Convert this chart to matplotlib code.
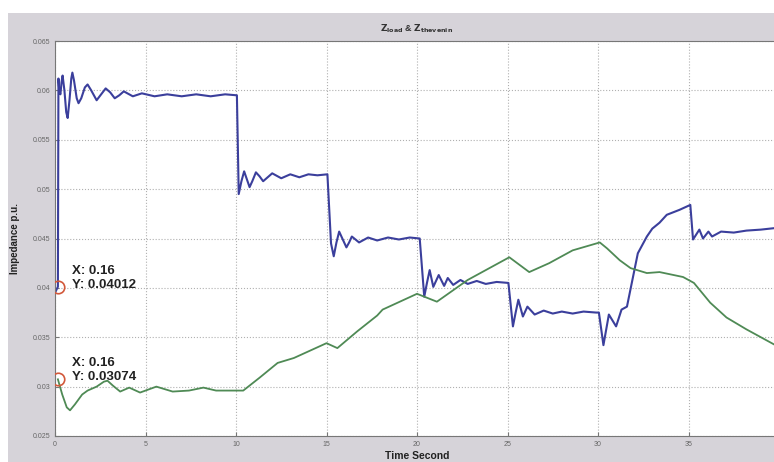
import matplotlib.pyplot as plt
from matplotlib.patches import Rectangle

# Z_load (blue)
t_load = [0.0, 0.16, 0.19, 0.24, 0.30, 0.36, 0.42, 0.52, 0.62, 0.70, 0.80, 0.90, 0.96, 1.05,
          1.2, 1.3, 1.45, 1.65, 1.8, 2.0, 2.3, 2.55, 2.8, 3.05, 3.3, 3.55, 3.8,
          4.3, 4.8, 5.5, 6.2, 7.0, 7.8, 8.6, 9.4, 10.05,
          10.15, 10.3, 10.45, 10.6, 10.75, 10.9, 11.1, 11.3, 11.5, 12.0, 12.5, 13.0, 13.5, 14.0, 14.5, 15.05,
          15.25, 15.4, 15.55, 15.7, 15.9, 16.1, 16.25, 16.4, 16.8, 17.3, 17.8, 18.4, 19.0, 19.6, 20.15,
          20.4, 20.55, 20.7, 20.9, 21.05, 21.2, 21.5, 21.7, 22.0, 22.4, 22.8, 23.3, 23.8, 24.4, 25.05,
          25.3, 25.45, 25.6, 25.85, 26.1, 26.5, 27.0, 27.5, 28.0, 28.6, 29.2, 29.9, 30.05,
          30.3, 30.6, 31.0, 31.3, 31.6, 31.9, 32.2, 32.7, 33.0, 33.4, 33.8, 34.5, 35.1,
          35.25, 35.6, 35.8, 36.1, 36.3, 36.8, 37.5, 38.2, 39.0, 40.0]
z_load = [0.0395, 0.04012, 0.0612, 0.0598, 0.0596, 0.0608, 0.0615, 0.0600, 0.0578, 0.0572, 0.0590, 0.0612, 0.0618, 0.0610,
          0.0592, 0.0587, 0.0592, 0.0603, 0.0606, 0.0600, 0.0590, 0.0596, 0.0602, 0.0598, 0.0592, 0.0595, 0.0599,
          0.0594, 0.0597, 0.0594, 0.0596, 0.0594, 0.0596, 0.0594, 0.0596, 0.0595,
          0.0495, 0.0508, 0.0518, 0.0510, 0.0502, 0.0508, 0.0517, 0.0513, 0.0508, 0.0516, 0.0511, 0.0515, 0.0512, 0.0515, 0.0514, 0.0515,
          0.0445, 0.0432, 0.0446, 0.0457, 0.0449, 0.0441, 0.0446, 0.0452, 0.0446, 0.0451, 0.0448, 0.0451, 0.0449, 0.0451, 0.0450,
          0.0391, 0.0405, 0.0418, 0.0401, 0.0407, 0.0413, 0.0402, 0.0410, 0.0403, 0.0408, 0.0404, 0.0407, 0.0404, 0.0406, 0.0405,
          0.0361, 0.0375, 0.0388, 0.0371, 0.0381, 0.0373, 0.0377, 0.0374, 0.0376, 0.0374, 0.0376, 0.0375, 0.0375,
          0.0342, 0.0373, 0.0361, 0.0378, 0.0381, 0.0408, 0.0435, 0.0452, 0.0460, 0.0466, 0.0474, 0.0479, 0.0484,
          0.0449, 0.0459, 0.0450, 0.0457, 0.0452, 0.0457, 0.0456, 0.0458, 0.0459, 0.0461]

# Z_thevenin (green)
t_thev = [0.16, 0.4, 0.65, 0.83, 1.1, 1.5, 1.8, 2.3, 2.7, 2.9, 3.2, 3.6, 4.1, 4.7, 5.6, 6.5, 7.4, 8.2, 8.9, 10.4,
          11.3, 12.3, 13.2, 15.0, 15.6, 16.7, 17.8, 18.1, 20.0, 21.1, 22.8, 25.1,
          26.2, 27.3, 28.6, 30.1, 30.5, 31.2, 31.8, 32.7, 33.4, 34.7, 35.3, 36.2,
          37.1, 38.2, 40.0]
z_thev = [0.03074, 0.0292, 0.0279, 0.0276, 0.0282, 0.0292, 0.0296, 0.0300, 0.0305, 0.0306, 0.0301, 0.0295, 0.0299,
          0.0294, 0.0300, 0.0295, 0.0296, 0.0299, 0.0296, 0.0296,
          0.0309, 0.0324, 0.0329, 0.0344, 0.0339, 0.0356, 0.0372, 0.0378, 0.0394, 0.0386, 0.0408, 0.0431,
          0.0416, 0.0425, 0.0438, 0.0446, 0.0440, 0.0428, 0.0420, 0.0415, 0.0416, 0.0411, 0.0405, 0.0385,
          0.0370, 0.0358, 0.0340]

x_ticks = [0, 5, 10, 15, 20, 25, 30, 35, 40]
y_ticks = [0.025, 0.03, 0.035, 0.04, 0.045, 0.05, 0.055, 0.06, 0.065]
tips = [(0.16, 0.04012), (0.16, 0.03074)]

plt.rcParams['font.family'] = ['Liberation Sans', 'DejaVu Sans']

fig = plt.figure(figsize=(7.74, 4.62), dpi=100, facecolor='white')
# grey MATLAB-like window area, behind the axes
fig.patches.append(Rectangle((8 / 774, 0), 1, 1 - 13 / 462, transform=fig.transFigure,
                             facecolor='#d6d3d9', edgecolor='none', zorder=-10))

ax = fig.add_axes([55 / 774, 26 / 462, 724 / 774, 395 / 462])
ax.set_facecolor('white')
ax.plot(t_load, z_load, color='#3b3f9c', lw=1.5)
ax.plot(t_thev, z_thev, color='#4f8a55', lw=1.3)

for x, y in tips:
    ax.plot(x, y, 'o', ms=9, mfc='none', mec='#d2583a', mew=1.2, zorder=5)
    ax.annotate(f"X: {x}\nY: {y:.5f}", xy=(x, y), xytext=(14, 9),
                textcoords='offset pixels', ha='left', va='center',
                fontsize=9.5, fontweight='bold', color='#222222', linespacing=1.2)

ax.set_xlim(0, 40)
ax.set_ylim(0.025, 0.065)
ax.set_xticks(x_ticks)
ax.set_yticks(y_ticks)
ax.set_xticklabels([str(v) for v in x_ticks])
ax.set_yticklabels([f"{v:g}" for v in y_ticks])
ax.tick_params(direction='in', length=3, labelsize=5, labelcolor='#666666', color='#777777')
ax.grid(True, linestyle=':', color='#b0b0b0', lw=0.8)
for s in ax.spines.values():
    s.set_color('#777777')

ax.set_title(r'$\mathbf{Z_{load}}$ & $\mathbf{Z_{thevenin}}$', fontsize=6.5,
             fontweight='bold', color='#333333', pad=7)
ax.set_xlabel('Time Second', fontsize=7.5, fontweight='bold', color='#222222', labelpad=2)
ax.set_ylabel('Impedance p.u.', fontsize=7, fontweight='bold', color='#222222', labelpad=9)

fig.savefig('out.png', dpi=100)
